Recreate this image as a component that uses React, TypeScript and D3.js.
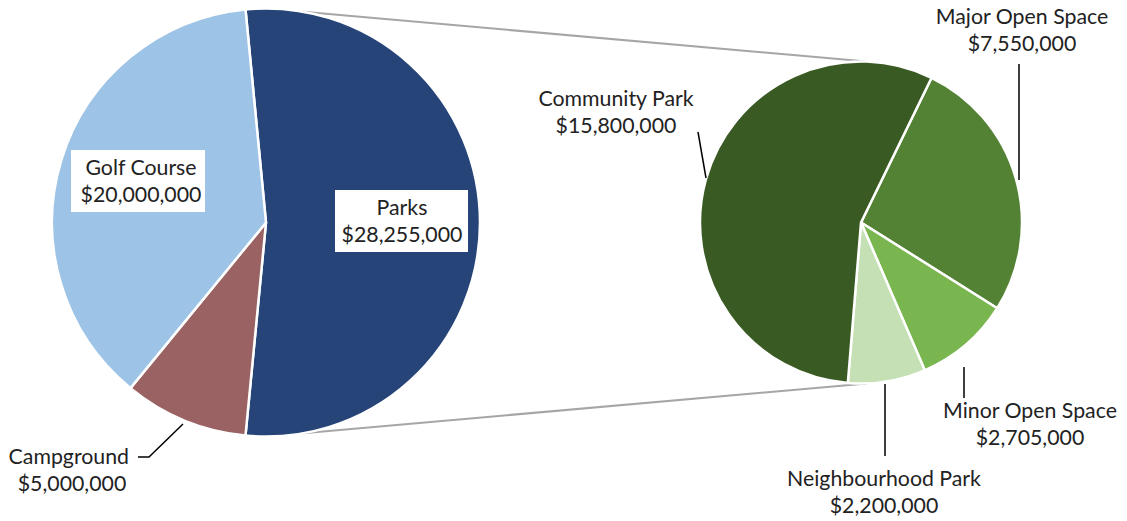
import React from "react";
import * as d3 from "d3";

const mainCategories = ["Parks", "Campground", "Golf Course"];
const mainValues = [28255000, 5000000, 20000000];
const mainColors = ["#264478", "#9A6262", "#9DC3E6"];

const subCategories = ["Major Open Space", "Minor Open Space", "Neighbourhood Park", "Community Park"];
const subValues = [7550000, 2705000, 2200000, 15800000];
const subColors = ["#548235", "#7AB650", "#C5E0B4", "#3A5A24"];

const fmt = (v: number) => "$" + d3.format(",")(v);
const deg = (a: number) => (a * Math.PI) / 180;

const W = 1127;
const H = 521;
const FONT = "Lato, 'Open Sans', sans-serif";
const FS = 21.3;
const LH = 27;

export default function App() {
  const c1 = { x: 266, y: 222.5, r: 214 };
  const c2 = { x: 861, y: 222.5, r: 161 };

  const pie1 = d3.pie<number>().sort(null).startAngle(deg(-5.5)).endAngle(deg(354.5));
  const pie2 = d3.pie<number>().sort(null).startAngle(deg(26)).endAngle(deg(386));
  const arcs1 = pie1(mainValues);
  const arcs2 = pie2(subValues);
  const arc1 = d3.arc<d3.PieArcDatum<number>>().innerRadius(0).outerRadius(c1.r);
  const arc2 = d3.arc<d3.PieArcDatum<number>>().innerRadius(0).outerRadius(c2.r);

  const pt = (c: { x: number; y: number; r: number }, aDeg: number, r = c.r) => [
    c.x + r * Math.sin(deg(aDeg)),
    c.y - r * Math.cos(deg(aDeg)),
  ];

  const topStart = pt(c1, 10);
  const botStart = pt(c1, 170);
  const topEnd = pt(c2, 2);
  const botEnd = pt(c2, 178);

  const twoLine = (x: number, y: number, l1: string, l2: string) => (
    <g fontFamily={FONT} fontSize={FS} fill="#222">
      <text x={x} y={y} textAnchor="middle">{l1}</text>
      <text x={x} y={y + LH} textAnchor="middle">{l2}</text>
    </g>
  );

  return (
    <svg width={W} height={H} style={{ position: "absolute", left: 0, top: 0, background: "#fff" }}>
      <line x1={topStart[0]} y1={topStart[1]} x2={topEnd[0]} y2={topEnd[1]} stroke="#A6A6A6" strokeWidth={2} />
      <line x1={botStart[0]} y1={botStart[1]} x2={botEnd[0]} y2={botEnd[1]} stroke="#A6A6A6" strokeWidth={2} />
      <g transform={`translate(${c1.x},${c1.y})`}>
        {arcs1.map((a, i) => (
          <path key={i} d={arc1(a) || ""} fill={mainColors[i]} stroke="#fff" strokeWidth={2.5} strokeLinejoin="round" />
        ))}
      </g>
      <g transform={`translate(${c2.x},${c2.y})`}>
        {arcs2.map((a, i) => (
          <path key={i} d={arc2(a) || ""} fill={subColors[i]} stroke="#fff" strokeWidth={2.5} strokeLinejoin="round" />
        ))}
      </g>

      {/* Golf Course label box */}
      <rect x={71} y={150} width={134} height={62} fill="#fff" />
      {twoLine(141, 175, mainCategories[2], fmt(mainValues[2]))}

      {/* Parks label box */}
      <rect x={335} y={190} width={133} height={62} fill="#fff" />
      {twoLine(402, 215, mainCategories[0], fmt(mainValues[0]))}

      {/* Campground */}
      <polyline points="183,424 149,457 138,457" fill="none" stroke="#000" strokeWidth={1.5} />
      <g fontFamily={FONT} fontSize={FS} fill="#222">
        <text x={129} y={464} textAnchor="end">{mainCategories[1]}</text>
        <text x={72} y={491} textAnchor="middle">{fmt(mainValues[1])}</text>
      </g>

      {/* Community Park */}
      <line x1={698} y1={132} x2={706} y2={178} stroke="#000" strokeWidth={1.5} />
      {twoLine(616, 106, subCategories[3], fmt(subValues[3]))}

      {/* Major Open Space */}
      <line x1={1019} y1={64} x2={1019} y2={180} stroke="#000" strokeWidth={1.5} />
      {twoLine(1022, 24, subCategories[0], fmt(subValues[0]))}

      {/* Minor Open Space */}
      <line x1={964} y1={367} x2={964} y2={398} stroke="#000" strokeWidth={1.5} />
      {twoLine(1030, 418, subCategories[1], fmt(subValues[1]))}

      {/* Neighbourhood Park */}
      <line x1={885} y1={384} x2={885} y2={456} stroke="#000" strokeWidth={1.5} />
      {twoLine(884, 486, subCategories[2], fmt(subValues[2]))}
    </svg>
  );
}
